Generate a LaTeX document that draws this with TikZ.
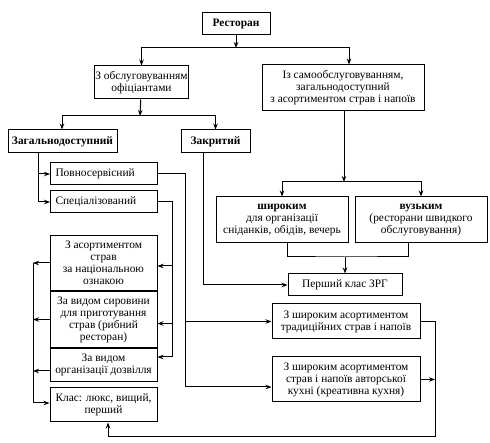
\documentclass[tikz,border=0pt]{standalone}
\usepackage{fontspec}
\setmainfont{Liberation Serif}
\usepackage{tikz}
\usetikzlibrary{positioning,arrows.meta}

\begin{document}
\begin{tikzpicture}[
  x=1pt, y=-1pt,
  node distance=0pt,
  box/.style={draw, line width=1pt, align=center, inner sep=1pt,
              font=\fontsize{11.4}{12}\selectfont},
  bbox/.style={box, font=\fontsize{11.4}{12}\selectfont\bfseries},
  lbox/.style={box, align=left, anchor=west, inner xsep=5pt,
               text width=97pt},
  arr/.style={-{Stealth[length=6pt,width=4.5pt]}, line width=1pt},
  line/.style={line width=1pt}
]
  \useasboundingbox (0,0) rectangle (490,443);

  % top level
  \node[bbox, minimum width=68pt, minimum height=22pt] (rest) at (236,24) {Ресторан};
  \node[box, minimum width=93pt, minimum height=33pt] (waiter) at (141.5,82.5) {З обслуговуванням\\офіціантами};
  \node[box, minimum width=162pt, minimum height=46pt] (self) at (343,88) {Із самообслуговуванням,\\загальнодоступний\\з асортиментом страв і напоїв};

  % waiter branch
  \node[bbox, minimum width=109pt, minimum height=23pt] (gen) at (62.5,141.5) {Загальнодоступний};
  \node[bbox, minimum width=69pt, minimum height=23pt] (closed) at (215.5,141.5) {Закритий};
  \node[lbox, minimum height=22pt] (full) at (50,174) {Повносервісний};
  \node[lbox, minimum height=22pt] (spec) at (50,202) {Спеціалізований};

  % self-service branch
  \node[box, minimum width=132pt, minimum height=46pt] (wide) at (282,220) {\textbf{широким}\\для організації\\сніданків, обідів, вечерь};
  \node[box, minimum width=132pt, minimum height=46pt] (narrow) at (421,220) {\textbf{вузьким}\\(ресторани швидкого\\обслуговування)};
  \node[box, minimum width=114pt, minimum height=22pt] (first) at (345,285) {Перший клас ЗРГ};

  % left stack
  \node[box, minimum width=107pt, minimum height=55pt, anchor=north] (nat) at (103.5,235) {З асортиментом\\страв\\за національною\\ознакою};
  \node[box, minimum width=107pt, minimum height=56pt, below=of nat] (raw) {За видом сировини\\для приготування\\страв (рибний\\ресторан)};
  \node[box, minimum width=107pt, minimum height=33pt, below=of raw] (leis) {За видом\\організації дозвілля};
  \node[box, minimum width=107pt, minimum height=34pt] (cls) at (103.5,405) {Клас: люкс, вищий,\\перший};

  % right stack
  \node[box, minimum width=148pt, minimum height=35pt] (trad) at (346,321.5) {З широким асортиментом\\традиційних страв і напоїв};
  \node[box, minimum width=148pt, minimum height=45pt] (auth) at (346,379.5) {З широким асортиментом\\страв і напоїв авторської\\кухні (креативна кухня)};

  % bus points
  \coordinate (busA) at (236,48);
  \coordinate (busB) at (140,116);
  \coordinate (busC) at (344,182);
  \coordinate (busD) at (345,257);
  \coordinate (r1) at (185,387);
  \coordinate (r2) at (172,357);
  \coordinate (r3) at (435,436);
  \coordinate (l1) at (33,403);

  \draw[arr] (rest) -- (busA);
  \draw[arr] (busA) -| (waiter);
  \draw[arr] (busA) -| ([xshift=6pt]self.north);

  \draw[arr] (waiter) -- (busB);
  \draw[arr] (busB) -| ([xshift=-0.5pt]gen.north);
  \draw[arr] (busB) -| (closed);

  \draw[arr] ([xshift=1pt]self.south) -- (busC);
  \draw[arr] (busC) -| (wide);
  \draw[arr] (busC) -| (narrow);
  \draw[line] ([xshift=5pt]wide.south) |- (busD) -| ([xshift=-13pt]narrow.south);
  \draw[arr] (busD) -- (first);

  \draw[arr] ([xshift=-12.5pt]closed.south) |- (first);

  \draw[arr] ([xshift=-24.5pt]gen.south) |- (full);
  \draw[arr] ([xshift=-24.5pt]gen.south) |- (spec);

  \draw[line] (full) -| (r1);
  \draw[arr] (full.east -| r1) |- (trad);
  \draw[arr] (r1) -- (auth.west |- r1);

  \draw[line] (spec) -| (r2);
  \draw[arr] (spec.east -| r2) |- ([yshift=-3pt]nat.east);
  \draw[arr] (spec.east -| r2) |- ([yshift=-4pt]raw.east);
  \draw[arr] (r2) -- (leis.east |- r2);

  \draw[arr] (nat) -- (nat.west -| l1);
  \draw[arr] (raw) -- (raw.west -| l1);
  \draw[arr] ([yshift=-6pt]leis.west) -- ([yshift=-6pt]leis.west -| l1);
  \draw[arr] (nat.west -| l1) |- (cls.west |- l1);

  \draw[arr] (auth) -- (auth.east -| r3);
  \draw[arr] (trad) -| (r3) -| ([xshift=4.5pt]cls.south);
\end{tikzpicture}
\end{document}
